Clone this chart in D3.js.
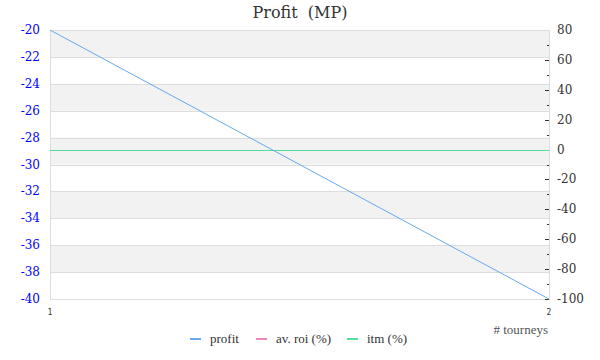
<!DOCTYPE html>
<html><head><meta charset="utf-8">
<script src="https://cdn.jsdelivr.net/npm/d3@7"></script>
<style>body{margin:0;background:#fff}svg{display:block}</style>
</head><body><svg id="c" width="600" height="360"></svg>
<script>
const tourneys = [1, 2];
const profit = [-20, -40];
const avRoi = [0, 0];
const itm = [0, 0];
const leftTicks = [-20,-22,-24,-26,-28,-30,-32,-34,-36,-38,-40];
const rightTicks = [80,60,40,20,0,-20,-40,-60,-80,-100];
const rightMinor = [70,50,30,10,-10,-30,-50,-70,-90];
const seriesNames = ["profit", "av. roi (%)", "itm (%)"];
const seriesColors = ["#66aaee", "#ee88bb", "#55dd99"];

const svg = d3.select("#c");
const L = 50, R = 549, T = 30, B = 299;
const x = d3.scaleLinear().domain([1, 2]).range([L, R]);
const yL = d3.scaleLinear().domain([-40, -20]).range([B, T]);
const yR = d3.scaleLinear().domain([-100, 80]).range([B, T]);
const serif = "Georgia, 'DejaVu Serif', serif";
const tserif = "'Liberation Serif', 'Times New Roman', serif";

// bands
for (let i = 0; i < leftTicks.length - 1; i += 2) {
  svg.append("rect").attr("x", L).attr("width", R - L)
    .attr("y", yL(leftTicks[i])).attr("height", yL(leftTicks[i+1]) - yL(leftTicks[i]))
    .attr("fill", "#f2f2f2");
}
// grid
svg.append("g").selectAll("line").data(leftTicks).join("line")
  .attr("x1", L).attr("x2", R).attr("y1", d => Math.round(yL(d)) + 0.5).attr("y2", d => Math.round(yL(d)) + 0.5)
  .attr("stroke", "#dddddd");
// axis lines
svg.append("line").attr("x1", L + 0.5).attr("x2", L + 0.5).attr("y1", T).attr("y2", B + 1).attr("stroke", "#dddddd");
svg.append("line").attr("x1", R + 0.5).attr("x2", R + 0.5).attr("y1", T).attr("y2", B + 1).attr("stroke", "#dddddd");

// left labels
svg.append("g").selectAll("text").data(leftTicks).join("text")
  .attr("x", 40).attr("y", d => yL(d) + 4).attr("text-anchor", "end")
  .attr("fill", "#0000ff").attr("font-family", serif).attr("font-size", 12)
  .text(d => d);
// right ticks
svg.append("g").selectAll("line").data(rightTicks.slice(1)).join("line")
  .attr("x1", R - 4).attr("x2", R).attr("y1", d => Math.round(yR(d)) + 0.5).attr("y2", d => Math.round(yR(d)) + 0.5)
  .attr("stroke", "#333");
svg.append("g").selectAll("line").data(rightMinor).join("line")
  .attr("x1", R - 2).attr("x2", R).attr("y1", d => Math.round(yR(d)) + 0.5).attr("y2", d => Math.round(yR(d)) + 0.5)
  .attr("stroke", "#333");
svg.append("g").selectAll("text").data(rightTicks).join("text")
  .attr("x", 557).attr("y", d => yR(d) + 4)
  .attr("fill", "#333").attr("font-family", serif).attr("font-size", 12)
  .text(d => d);
// x labels
svg.append("g").selectAll("text").data(tourneys).join("text")
  .attr("x", d => x(d)).attr("y", 315).attr("text-anchor", "middle")
  .attr("fill", "#333").attr("font-family", "'DejaVu Sans Mono', monospace").attr("font-size", 8)
  .text(d => d);
svg.append("text").attr("x", 548).attr("y", 334).attr("text-anchor", "end")
  .attr("fill", "#555").attr("font-family", tserif).attr("font-size", 13).text("# tourneys");

// title
svg.append("text").attr("x", 300).attr("y", 18).attr("text-anchor", "middle")
  .style("white-space", "pre")
  .attr("fill", "#333").attr("font-family", serif).attr("font-size", 16).text("Profit  (MP)");

// series
const lineL = d3.line().x((d, i) => x(tourneys[i])).y(d => yL(d));
const lineR = d3.line().x((d, i) => x(tourneys[i])).y(d => Math.round(yR(d)) + 0.5);
svg.append("path").attr("d", lineR(avRoi)).attr("fill", "none").attr("stroke", seriesColors[1]).attr("stroke-width", 1);
svg.append("path").attr("d", lineR(itm)).attr("fill", "none").attr("stroke", seriesColors[2]).attr("stroke-width", 1.2);
svg.append("path").attr("d", lineL(profit)).attr("fill", "none").attr("stroke", seriesColors[0]).attr("stroke-width", 1);

// legend
const legX = [190, 256, 347];
const lg = svg.append("g").selectAll("g").data(seriesNames).join("g")
  .attr("transform", (d, i) => `translate(${legX[i]},339)`);
lg.append("line").attr("x1", 0).attr("x2", 11).attr("y1", 0).attr("y2", 0)
  .attr("stroke", (d, i) => seriesColors[i]).attr("stroke-width", 2);
lg.append("text").attr("x", 20).attr("y", 4).attr("fill", "#333")
  .attr("font-family", tserif).attr("font-size", 13).text(d => d);
</script></body></html>
